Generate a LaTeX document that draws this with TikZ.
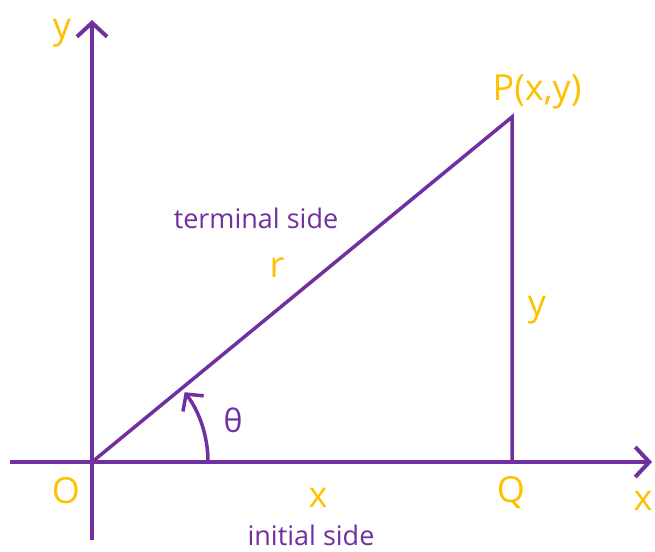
\documentclass[tikz,border=0pt]{standalone}
\usepackage{fontspec}
\setmainfont{Open Sans}
\usetikzlibrary{arrows.meta}
\definecolor{vio}{HTML}{7030A0}
\definecolor{gold}{HTML}{FFC000}
\tikzset{
  axis/.style={draw=vio, line width=4pt, -{Straight Barb[length=14pt,width=30pt,line width=4pt]}},
  side/.style={draw=vio, line width=3.5pt},
  lbl/.style={text=gold, font=\fontsize{36}{36}\selectfont, inner sep=0pt},
  plbl/.style={text=vio, font=\fontsize{27}{27}\selectfont, inner sep=0pt},
}
\begin{document}
\begin{tikzpicture}[x=1pt,y=-1pt]
\useasboundingbox (0,0) rectangle (655,551);
\coordinate (O) at (92,462);
\coordinate (P) at (512,117);
\coordinate (Q) at (512,462);
\coordinate (xl) at (10,462);
\coordinate (xr) at (652,462);
\coordinate (yb) at (92,540);
\coordinate (yt) at (92,20);
\draw[axis] (xl) -- (xr);
\draw[axis] (yb) -- (yt);
\draw[side] (O) -- (P) -- (Q);
\draw[draw=vio, line width=3.5pt, -{Straight Barb[length=12pt,width=26pt,line width=3.5pt]}] (208,462) arc[start angle=0, end angle=-37, radius=116];
\node[lbl] (ylab) at (62,33) {y};
\node[lbl] (plab) at (537,92) {P(x,y)};
\node[plbl] (term) at (256,218) {terminal side};
\node[lbl] (rlab) at (277,268) {r};
\node[lbl] (ylab2) at (537,310) {y};
\node[text=vio, font=\fontsize{32}{32}\selectfont, inner sep=0pt] (th) at (233,420) {θ};
\node[lbl] (olab) at (66,491) {O};
\node[lbl] (xlab) at (318,498) {x};
\node[lbl] (qlab) at (511,492) {Q};
\node[lbl] (xlab2) at (643,501) {x};
\node[plbl] (init) at (311,535) {initial side};
\end{tikzpicture}
\end{document}
